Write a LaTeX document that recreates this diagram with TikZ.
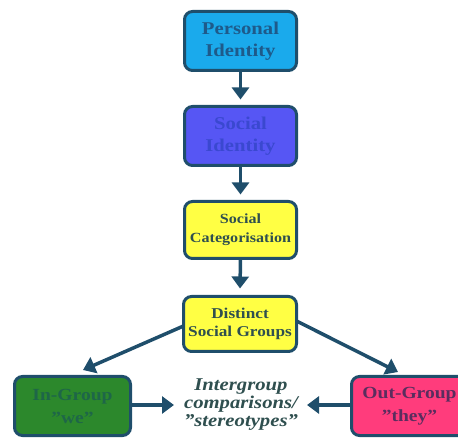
\documentclass[tikz,border=0pt]{standalone}
\usepackage{fontspec}
\setmainfont{Liberation Serif}[FakeStretch=1.15]
\usetikzlibrary{arrows.meta}
\definecolor{bordc}{HTML}{1F4E6B}
\definecolor{pfill}{HTML}{1AAAEC}
\definecolor{ptext}{HTML}{1E5A8A}
\definecolor{sfill}{HTML}{5656F4}
\definecolor{stext}{HTML}{3A48D0}
\definecolor{yfill}{HTML}{FFFF44}
\definecolor{ytext}{HTML}{2F4F4F}
\definecolor{gfill}{HTML}{2C882C}
\definecolor{gtext}{HTML}{1E6648}
\definecolor{rfill}{HTML}{FF3C7C}
\definecolor{rtext}{HTML}{5A2D5E}
\newcommand{\sq}{\char34\relax}
\tikzset{
  box/.style={draw=bordc, line width=3pt, rounded corners=8pt, align=center,
    outer sep=0pt, inner sep=0pt},
  conn/.style={draw=bordc, line width=3.5pt, -{Triangle[width=17pt,length=12pt]}},
}
\begin{document}
\begin{tikzpicture}[x=1pt,y=-1pt]
\useasboundingbox (0,0) rectangle (458,438);
\node[box, fill=pfill, text=ptext, minimum width=112pt, minimum height=59pt,
  font=\bfseries\fontsize{18}{22}\selectfont] (p) at (240.5,41) {Personal\\Identity};
\node[box, fill=sfill, text=stext, minimum width=112pt, minimum height=59pt,
  font=\bfseries\fontsize{18}{22}\selectfont] (s) at (240.5,136) {Social\\Identity};
\node[box, fill=yfill, text=ytext, minimum width=112pt, minimum height=57pt,
  font=\bfseries\fontsize{14}{19}\selectfont] (c) at (240.5,230) {Social\\Categorisation};
\node[box, fill=yfill, text=ytext, minimum width=113pt, minimum height=55pt,
  font=\bfseries\fontsize{15}{18}\selectfont] (d) at (240,324) {Distinct\\Social Groups};
\node[box, fill=gfill, text=gtext, minimum width=116pt, minimum height=59pt,
  font=\bfseries\fontsize{17}{23}\selectfont] (ig) at (72.5,406) {In-Group\\\sq we\sq};
\node[box, fill=rfill, text=rtext, minimum width=116pt, minimum height=59pt,
  font=\bfseries\fontsize{17}{23}\selectfont] (og) at (409.5,406) {Out-Group\\\sq they\sq};
\node[align=center, text=ytext, inner sep=0pt,
  font=\bfseries\itshape\fontsize{18}{18}\selectfont] (t) at (241,405)
  {Intergroup\\comparisons/\\\sq stereotypes\sq};
\coordinate (tipL) at (83,370);
\coordinate (tipR) at (398,372);
\coordinate (tipI) at (174,405);
\coordinate (tipO) at (307,405);
\draw[conn, shorten >=-1pt] (p.south) -- ([yshift=8pt]s.north);
\draw[conn] (s.south) -- ([yshift=7pt]c.north);
\draw[conn] (c.south) -- ([yshift=8pt]d.north);
\draw[conn] ([yshift=-2pt]d.west) -- (tipL);
\draw[conn] ([yshift=3pt]d.east) -- (tipR);
\draw[conn] (ig.east |- tipI) -- (tipI);
\draw[conn] (og.west |- tipO) -- (tipO);
\end{tikzpicture}
\end{document}
